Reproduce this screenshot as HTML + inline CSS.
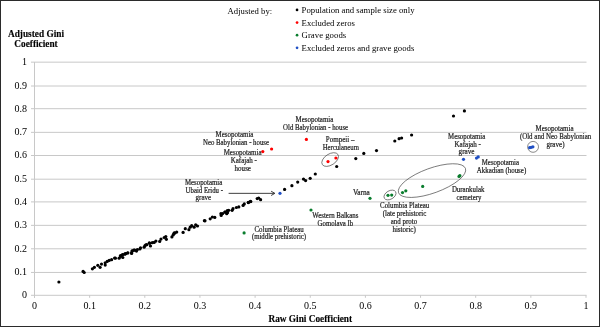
<!DOCTYPE html>
<html><head><meta charset="utf-8"><style>
html,body{margin:0;padding:0;background:#fff;}
.wrap{position:relative;width:600px;height:327px;overflow:hidden;}
svg{position:absolute;left:0;top:0;transform:translateZ(0);}
text{font-family:"Liberation Serif",serif;fill:#000;}
.ax{font-size:10px;}
.an{font-size:7.25px;stroke:#222;stroke-width:0.2px;fill:#222;}
.lg{font-size:8.7px;}
.tt{font-size:9.3px;font-weight:bold;stroke:#111;stroke-width:0.15px;}
.frame{position:absolute;left:0;top:0;width:598px;height:325px;border:1px solid #2b2b2b;}
</style></head><body><div class="wrap">
<svg width="600" height="327" viewBox="0 0 600 327">
<line x1="31" x2="586.5" y1="295.30" y2="295.30" stroke="#c8c8c8" stroke-width="1"/>
<line x1="31" x2="586.5" y1="272.45" y2="272.45" stroke="#c8c8c8" stroke-width="1"/>
<line x1="31" x2="586.5" y1="248.80" y2="248.80" stroke="#c8c8c8" stroke-width="1"/>
<line x1="31" x2="586.5" y1="225.35" y2="225.35" stroke="#c8c8c8" stroke-width="1"/>
<line x1="31" x2="586.5" y1="201.90" y2="201.90" stroke="#c8c8c8" stroke-width="1"/>
<line x1="31" x2="586.5" y1="179.20" y2="179.20" stroke="#c8c8c8" stroke-width="1"/>
<line x1="31" x2="586.5" y1="155.50" y2="155.50" stroke="#c8c8c8" stroke-width="1"/>
<line x1="31" x2="586.5" y1="132.35" y2="132.35" stroke="#c8c8c8" stroke-width="1"/>
<line x1="31" x2="586.5" y1="108.70" y2="108.70" stroke="#c8c8c8" stroke-width="1"/>
<line x1="31" x2="586.5" y1="86.00" y2="86.00" stroke="#c8c8c8" stroke-width="1"/>
<line x1="31" x2="586.5" y1="62.17" y2="62.17" stroke="#c8c8c8" stroke-width="1"/>
<line x1="34.5" x2="34.5" y1="62.1" y2="297.8" stroke="#c8c8c8" stroke-width="1"/>
<line x1="34.50" x2="34.50" y1="295.3" y2="297.8" stroke="#c8c8c8" stroke-width="1"/>
<line x1="89.65" x2="89.65" y1="295.3" y2="297.8" stroke="#c8c8c8" stroke-width="1"/>
<line x1="144.80" x2="144.80" y1="295.3" y2="297.8" stroke="#c8c8c8" stroke-width="1"/>
<line x1="199.95" x2="199.95" y1="295.3" y2="297.8" stroke="#c8c8c8" stroke-width="1"/>
<line x1="255.10" x2="255.10" y1="295.3" y2="297.8" stroke="#c8c8c8" stroke-width="1"/>
<line x1="310.25" x2="310.25" y1="295.3" y2="297.8" stroke="#c8c8c8" stroke-width="1"/>
<line x1="365.40" x2="365.40" y1="295.3" y2="297.8" stroke="#c8c8c8" stroke-width="1"/>
<line x1="420.55" x2="420.55" y1="295.3" y2="297.8" stroke="#c8c8c8" stroke-width="1"/>
<line x1="475.70" x2="475.70" y1="295.3" y2="297.8" stroke="#c8c8c8" stroke-width="1"/>
<line x1="530.85" x2="530.85" y1="295.3" y2="297.8" stroke="#c8c8c8" stroke-width="1"/>
<line x1="586.00" x2="586.00" y1="295.3" y2="297.8" stroke="#c8c8c8" stroke-width="1"/>
<text x="27" y="298.20" text-anchor="end" class="ax">0</text>
<text x="27" y="275.35" text-anchor="end" class="ax">0.1</text>
<text x="27" y="251.70" text-anchor="end" class="ax">0.2</text>
<text x="27" y="228.25" text-anchor="end" class="ax">0.3</text>
<text x="27" y="204.80" text-anchor="end" class="ax">0.4</text>
<text x="27" y="182.10" text-anchor="end" class="ax">0.5</text>
<text x="27" y="158.40" text-anchor="end" class="ax">0.6</text>
<text x="27" y="135.25" text-anchor="end" class="ax">0.7</text>
<text x="27" y="111.60" text-anchor="end" class="ax">0.8</text>
<text x="27" y="88.90" text-anchor="end" class="ax">0.9</text>
<text x="27" y="65.07" text-anchor="end" class="ax">1</text>
<text x="34.50" y="309.3" text-anchor="middle" class="ax">0</text>
<text x="89.65" y="309.3" text-anchor="middle" class="ax">0.1</text>
<text x="144.80" y="309.3" text-anchor="middle" class="ax">0.2</text>
<text x="199.95" y="309.3" text-anchor="middle" class="ax">0.3</text>
<text x="255.10" y="309.3" text-anchor="middle" class="ax">0.4</text>
<text x="310.25" y="309.3" text-anchor="middle" class="ax">0.5</text>
<text x="365.40" y="309.3" text-anchor="middle" class="ax">0.6</text>
<text x="420.55" y="309.3" text-anchor="middle" class="ax">0.7</text>
<text x="475.70" y="309.3" text-anchor="middle" class="ax">0.8</text>
<text x="530.85" y="309.3" text-anchor="middle" class="ax">0.9</text>
<text x="586.00" y="309.3" text-anchor="middle" class="ax">1</text>
<ellipse cx="330.15" cy="159.55" rx="9.3" ry="5.5" transform="rotate(-33 330.15 159.55)" fill="none" stroke="#3a3a3a" stroke-width="0.6"/>
<ellipse cx="390" cy="195" rx="6.5" ry="4.2" transform="rotate(-30 390 195)" fill="none" stroke="#3a3a3a" stroke-width="0.6"/>
<ellipse cx="432" cy="180.6" rx="35.6" ry="12.4" transform="rotate(-20 432 180.6)" fill="none" stroke="#3a3a3a" stroke-width="0.6"/>
<circle cx="533.05" cy="146.85" r="5.45" fill="none" stroke="#3a3a3a" stroke-width="0.6"/>
<line x1="228.6" y1="193.35" x2="274.3" y2="193.35" stroke="#2a2a2a" stroke-width="0.9"/>
<path d="M271.1 191.2 L274.9 193.35 L271.1 195.5" fill="none" stroke="#2a2a2a" stroke-width="0.9"/>
<circle cx="58.9" cy="282" r="1.6" fill="#000"/>
<circle cx="83.1" cy="271.4" r="1.6" fill="#000"/>
<circle cx="84.2" cy="272.5" r="1.6" fill="#000"/>
<circle cx="92.4" cy="268.8" r="1.6" fill="#000"/>
<circle cx="94.4" cy="267.3" r="1.6" fill="#000"/>
<circle cx="97.8" cy="265.3" r="1.6" fill="#000"/>
<circle cx="100.1" cy="267.3" r="1.6" fill="#000"/>
<circle cx="101.5" cy="264.1" r="1.6" fill="#000"/>
<circle cx="105.2" cy="265.1" r="1.6" fill="#000"/>
<circle cx="105.2" cy="262.8" r="1.6" fill="#000"/>
<circle cx="107.2" cy="261.4" r="1.6" fill="#000"/>
<circle cx="109.2" cy="260.4" r="1.6" fill="#000"/>
<circle cx="111.6" cy="259.7" r="1.6" fill="#000"/>
<circle cx="114.6" cy="258" r="1.6" fill="#000"/>
<circle cx="115.4" cy="258.2" r="1.6" fill="#000"/>
<circle cx="119.1" cy="258.2" r="1.6" fill="#000"/>
<circle cx="120.5" cy="255.5" r="1.6" fill="#000"/>
<circle cx="122.8" cy="257.5" r="1.6" fill="#000"/>
<circle cx="122.5" cy="254.5" r="1.6" fill="#000"/>
<circle cx="125.2" cy="253.8" r="1.6" fill="#000"/>
<circle cx="127.9" cy="252.8" r="1.6" fill="#000"/>
<circle cx="131.6" cy="253.4" r="1.6" fill="#000"/>
<circle cx="132.2" cy="251.1" r="1.6" fill="#000"/>
<circle cx="133.9" cy="250.1" r="1.6" fill="#000"/>
<circle cx="120.6" cy="256.3" r="1.6" fill="#000"/>
<circle cx="122.4" cy="255.1" r="1.6" fill="#000"/>
<circle cx="124.6" cy="254.2" r="1.6" fill="#000"/>
<circle cx="125.8" cy="253.6" r="1.6" fill="#000"/>
<circle cx="127.6" cy="253" r="1.6" fill="#000"/>
<circle cx="131.6" cy="252.7" r="1.6" fill="#000"/>
<circle cx="132.2" cy="250.8" r="1.6" fill="#000"/>
<circle cx="134.7" cy="250.2" r="1.6" fill="#000"/>
<circle cx="136.5" cy="251.1" r="1.6" fill="#000"/>
<circle cx="137.4" cy="249.6" r="1.6" fill="#000"/>
<circle cx="139.9" cy="249" r="1.6" fill="#000"/>
<circle cx="140.5" cy="247.8" r="1.6" fill="#000"/>
<circle cx="144.1" cy="247.2" r="1.6" fill="#000"/>
<circle cx="145" cy="245.6" r="1.6" fill="#000"/>
<circle cx="146.9" cy="244.7" r="1.6" fill="#000"/>
<circle cx="149.3" cy="242.9" r="1.6" fill="#000"/>
<circle cx="145.9" cy="244.8" r="1.6" fill="#000"/>
<circle cx="149.9" cy="243.3" r="1.6" fill="#000"/>
<circle cx="150.5" cy="246" r="1.6" fill="#000"/>
<circle cx="152.3" cy="242.7" r="1.6" fill="#000"/>
<circle cx="154.2" cy="242.4" r="1.6" fill="#000"/>
<circle cx="155.9" cy="241.1" r="1.6" fill="#000"/>
<circle cx="159.7" cy="241.4" r="1.6" fill="#000"/>
<circle cx="161" cy="239.1" r="1.6" fill="#000"/>
<circle cx="164.2" cy="237.5" r="1.6" fill="#000"/>
<circle cx="165.8" cy="236.6" r="1.6" fill="#000"/>
<circle cx="166.4" cy="239.3" r="1.6" fill="#000"/>
<circle cx="171.9" cy="236.9" r="1.6" fill="#000"/>
<circle cx="173.1" cy="235" r="1.6" fill="#000"/>
<circle cx="174.3" cy="232.9" r="1.6" fill="#000"/>
<circle cx="173.7" cy="233.9" r="1.6" fill="#000"/>
<circle cx="174.9" cy="233" r="1.6" fill="#000"/>
<circle cx="176.7" cy="232.1" r="1.6" fill="#000"/>
<circle cx="183.1" cy="232.4" r="1.6" fill="#000"/>
<circle cx="185.3" cy="228.7" r="1.6" fill="#000"/>
<circle cx="188.9" cy="229.7" r="1.6" fill="#000"/>
<circle cx="190.2" cy="227.2" r="1.6" fill="#000"/>
<circle cx="191.7" cy="225.7" r="1.6" fill="#000"/>
<circle cx="194.1" cy="227.2" r="1.6" fill="#000"/>
<circle cx="195.7" cy="224.8" r="1.6" fill="#000"/>
<circle cx="197.5" cy="226" r="1.6" fill="#000"/>
<circle cx="204.4" cy="220.7" r="1.6" fill="#000"/>
<circle cx="205" cy="220.8" r="1.6" fill="#000"/>
<circle cx="210.2" cy="218.8" r="1.6" fill="#000"/>
<circle cx="212.4" cy="217" r="1.6" fill="#000"/>
<circle cx="214.8" cy="217.4" r="1.6" fill="#000"/>
<circle cx="220.9" cy="213.7" r="1.6" fill="#000"/>
<circle cx="221.2" cy="215.5" r="1.6" fill="#000"/>
<circle cx="224.9" cy="212" r="1.6" fill="#000"/>
<circle cx="226.7" cy="213.7" r="1.6" fill="#000"/>
<circle cx="227.3" cy="210.6" r="1.6" fill="#000"/>
<circle cx="222.6" cy="213.6" r="1.6" fill="#000"/>
<circle cx="225.1" cy="212.1" r="1.6" fill="#000"/>
<circle cx="227.5" cy="212.7" r="1.6" fill="#000"/>
<circle cx="228.7" cy="210.3" r="1.6" fill="#000"/>
<circle cx="232.1" cy="210.3" r="1.6" fill="#000"/>
<circle cx="233" cy="208.7" r="1.6" fill="#000"/>
<circle cx="236.4" cy="207.5" r="1.6" fill="#000"/>
<circle cx="238.8" cy="206.9" r="1.6" fill="#000"/>
<circle cx="243.1" cy="205.4" r="1.6" fill="#000"/>
<circle cx="244.3" cy="203.9" r="1.6" fill="#000"/>
<circle cx="248.3" cy="202.6" r="1.6" fill="#000"/>
<circle cx="250.4" cy="201.4" r="1.6" fill="#000"/>
<circle cx="248.4" cy="202.4" r="1.6" fill="#000"/>
<circle cx="250.8" cy="201.6" r="1.6" fill="#000"/>
<circle cx="257.2" cy="198.6" r="1.6" fill="#000"/>
<circle cx="258.7" cy="198" r="1.6" fill="#000"/>
<circle cx="260.6" cy="199.7" r="1.6" fill="#000"/>
<circle cx="284.6" cy="189.4" r="1.6" fill="#000"/>
<circle cx="291.9" cy="185.7" r="1.6" fill="#000"/>
<circle cx="297.7" cy="182.1" r="1.6" fill="#000"/>
<circle cx="303.5" cy="179.1" r="1.6" fill="#000"/>
<circle cx="305.6" cy="180.6" r="1.6" fill="#000"/>
<circle cx="310.2" cy="178.3" r="1.6" fill="#000"/>
<circle cx="315.3" cy="174" r="1.6" fill="#000"/>
<circle cx="336.7" cy="166.5" r="1.6" fill="#000"/>
<circle cx="355.8" cy="158.6" r="1.6" fill="#000"/>
<circle cx="363.8" cy="153.4" r="1.6" fill="#000"/>
<circle cx="376.5" cy="150.6" r="1.6" fill="#000"/>
<circle cx="394.8" cy="141" r="1.6" fill="#000"/>
<circle cx="399.1" cy="138.7" r="1.6" fill="#000"/>
<circle cx="401.6" cy="138" r="1.6" fill="#000"/>
<circle cx="411.6" cy="135" r="1.6" fill="#000"/>
<circle cx="453.5" cy="116" r="1.6" fill="#000"/>
<circle cx="464.4" cy="110.9" r="1.6" fill="#000"/>
<circle cx="262.8" cy="151.6" r="1.6" fill="#ff0000"/>
<circle cx="271.6" cy="149" r="1.6" fill="#ff0000"/>
<circle cx="306.4" cy="139.4" r="1.6" fill="#ff0000"/>
<circle cx="328" cy="161.6" r="1.6" fill="#ff0000"/>
<circle cx="335.9" cy="158" r="1.6" fill="#ff0000"/>
<circle cx="244.1" cy="232.9" r="1.6" fill="#0a7d2e"/>
<circle cx="311" cy="210" r="1.6" fill="#0a7d2e"/>
<circle cx="370" cy="198.3" r="1.6" fill="#0a7d2e"/>
<circle cx="388" cy="195.3" r="1.6" fill="#0a7d2e"/>
<circle cx="391.7" cy="195.1" r="1.6" fill="#0a7d2e"/>
<circle cx="402.5" cy="192.6" r="1.6" fill="#0a7d2e"/>
<circle cx="405.8" cy="190.8" r="1.6" fill="#0a7d2e"/>
<circle cx="422.7" cy="186.4" r="1.6" fill="#0a7d2e"/>
<circle cx="459.9" cy="175.7" r="1.6" fill="#0a7d2e"/>
<circle cx="459.0" cy="176.4" r="1.6" fill="#0a7d2e"/>
<circle cx="280" cy="193.3" r="1.6" fill="#1f4fc4"/>
<circle cx="463.5" cy="159.3" r="1.6" fill="#1f4fc4"/>
<circle cx="476.5" cy="158.1" r="1.6" fill="#1f4fc4"/>
<circle cx="478.2" cy="156.9" r="1.6" fill="#1f4fc4"/>
<circle cx="529.6" cy="147.7" r="1.6" fill="#1f4fc4"/>
<circle cx="531.2" cy="147.3" r="1.6" fill="#1f4fc4"/>
<circle cx="532.9" cy="146.8" r="1.6" fill="#1f4fc4"/>
<text x="295.55" y="121.95" textLength="37.75" lengthAdjust="spacingAndGlyphs" class="an">Mesopotamia</text>
<text x="283.10" y="130.05" textLength="65.00" lengthAdjust="spacingAndGlyphs" class="an">Old Babylonian - house</text>
<text x="215.60" y="137.35" textLength="37.80" lengthAdjust="spacingAndGlyphs" class="an">Mesopotamia</text>
<text x="203.00" y="145.15" textLength="66.00" lengthAdjust="spacingAndGlyphs" class="an">Neo Babylonian - house</text>
<text x="223.70" y="154.55" textLength="37.80" lengthAdjust="spacingAndGlyphs" class="an">Mesopotamia</text>
<text x="230.70" y="162.85" textLength="26.10" lengthAdjust="spacingAndGlyphs" class="an">Kafajah -</text>
<text x="234.60" y="170.75" textLength="16.40" lengthAdjust="spacingAndGlyphs" class="an">house</text>
<text x="325.80" y="142.20" textLength="28.60" lengthAdjust="spacingAndGlyphs" class="an">Pompeii –</text>
<text x="322.70" y="150.15" textLength="36.25" lengthAdjust="spacingAndGlyphs" class="an">Herculaneum</text>
<text x="184.90" y="185.15" textLength="37.40" lengthAdjust="spacingAndGlyphs" class="an">Mesopotamia</text>
<text x="185.60" y="192.85" textLength="37.40" lengthAdjust="spacingAndGlyphs" class="an">Ubaid Eridu -</text>
<text x="195.60" y="200.45" textLength="15.60" lengthAdjust="spacingAndGlyphs" class="an">grave</text>
<text x="352.90" y="195.05" textLength="16.90" lengthAdjust="spacingAndGlyphs" class="an">Varna</text>
<text x="312.30" y="218.25" textLength="46.10" lengthAdjust="spacingAndGlyphs" class="an">Western Balkans</text>
<text x="317.60" y="225.95" textLength="35.60" lengthAdjust="spacingAndGlyphs" class="an">Gomolava Ib</text>
<text x="254.50" y="231.75" textLength="49.30" lengthAdjust="spacingAndGlyphs" class="an">Columbia Plateau</text>
<text x="251.90" y="239.45" textLength="54.20" lengthAdjust="spacingAndGlyphs" class="an">(middle prehistoric)</text>
<text x="380.10" y="208.45" textLength="49.10" lengthAdjust="spacingAndGlyphs" class="an">Columbia Plateau</text>
<text x="382.80" y="216.45" textLength="43.50" lengthAdjust="spacingAndGlyphs" class="an">(late prehistoric</text>
<text x="390.80" y="224.15" textLength="26.30" lengthAdjust="spacingAndGlyphs" class="an">and proto</text>
<text x="392.40" y="232.45" textLength="23.40" lengthAdjust="spacingAndGlyphs" class="an">historic)</text>
<text x="448.10" y="139.05" textLength="37.20" lengthAdjust="spacingAndGlyphs" class="an">Mesopotamia</text>
<text x="454.40" y="146.85" textLength="26.50" lengthAdjust="spacingAndGlyphs" class="an">Kafajah -</text>
<text x="458.60" y="154.45" textLength="15.90" lengthAdjust="spacingAndGlyphs" class="an">grave</text>
<text x="481.80" y="164.95" textLength="37.20" lengthAdjust="spacingAndGlyphs" class="an">Mesopotamia</text>
<text x="476.80" y="172.95" textLength="49.40" lengthAdjust="spacingAndGlyphs" class="an">Akkadian (house)</text>
<text x="451.90" y="191.75" textLength="32.50" lengthAdjust="spacingAndGlyphs" class="an">Durankulak</text>
<text x="456.50" y="199.95" textLength="24.95" lengthAdjust="spacingAndGlyphs" class="an">cemetery</text>
<text x="535.60" y="131.25" textLength="37.90" lengthAdjust="spacingAndGlyphs" class="an">Mesopotamia</text>
<text x="519.90" y="139.15" textLength="71.30" lengthAdjust="spacingAndGlyphs" class="an">(Old and Neo Babylonian</text>
<text x="546.50" y="146.65" textLength="18.00" lengthAdjust="spacingAndGlyphs" class="an">grave)</text>
<text x="227.6" y="13.5" textLength="44.6" lengthAdjust="spacingAndGlyphs" class="lg">Adjusted by:</text>
<circle cx="297.05" cy="9.90" r="1.35" fill="#000"/>
<text x="301.6" y="12.90" textLength="112.90" lengthAdjust="spacingAndGlyphs" class="lg">Population and sample size only</text>
<circle cx="297.05" cy="22.55" r="1.35" fill="#ff0000"/>
<text x="301.6" y="25.55" textLength="53.30" lengthAdjust="spacingAndGlyphs" class="lg">Excluded zeros</text>
<circle cx="297.05" cy="35.20" r="1.35" fill="#0a7d2e"/>
<text x="301.6" y="38.20" textLength="44.60" lengthAdjust="spacingAndGlyphs" class="lg">Grave goods</text>
<circle cx="297.05" cy="47.85" r="1.35" fill="#1f4fc4"/>
<text x="301.6" y="50.85" textLength="112.70" lengthAdjust="spacingAndGlyphs" class="lg">Excluded zeros and grave goods</text>
<text x="36" y="36.5" text-anchor="middle" class="tt">Adjusted Gini</text>
<text x="36" y="47.1" text-anchor="middle" class="tt">Coefficient</text>
<text x="310.3" y="321.8" text-anchor="middle" class="tt">Raw Gini Coefficient</text>
</svg><div class="frame"></div></div></body></html>
